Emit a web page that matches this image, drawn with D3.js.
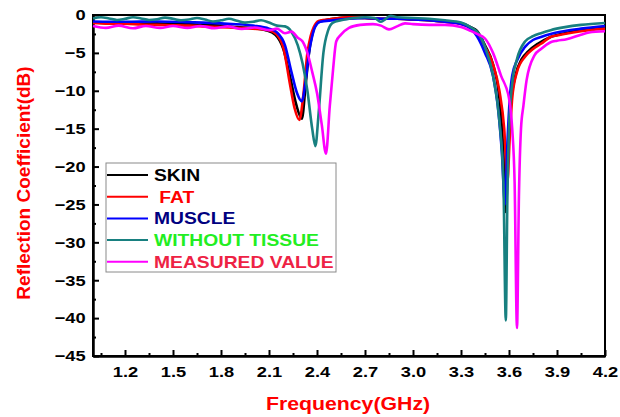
<!DOCTYPE html>
<html>
<head>
<meta charset="utf-8">
<script src="https://cdn.jsdelivr.net/npm/d3@7"></script>
<style>
  body { margin: 0; background: #fff; }
  text { font-family: "Liberation Sans", Arial, sans-serif; font-weight: bold; }
</style>
</head>
<body>
<div id="chart"></div>
<script>
// [frequency GHz, reflection coefficient dB]
var skin = [[1.0,-1.0],[1.1,-1.1],[1.2,-1.05],[1.3,-1.15],[1.4,-1.1],[1.5,-1.2],[1.6,-1.2],[1.7,-1.35],[1.8,-1.4],[1.9,-1.6],[2.0,-1.75],[2.08,-2.0],[2.14,-2.6],[2.19,-4.5],[2.23,-8.0],[2.27,-11.8],[2.305,-13.7],[2.33,-9],[2.35,-5],[2.375,-2.2],[2.41,-0.9],[2.45,-0.7],[2.5,-0.5],[2.6,-0.35],[2.7,-0.4],[2.8,-0.5],[2.9,-0.5],[3.0,-0.6],[3.1,-0.7],[3.2,-0.9],[3.3,-1.1],[3.36,-1.6],[3.4,-2.1],[3.45,-4.0],[3.5,-6.5],[3.54,-11],[3.565,-18],[3.58,-26],[3.595,-18],[3.61,-12],[3.64,-8],[3.68,-5.8],[3.72,-4.8],[3.78,-3.8],[3.85,-3.0],[3.95,-2.4],[4.05,-2.0],[4.2,-1.7]];
var fat = [[1.0,-1.05],[1.1,-1.15],[1.2,-1.15],[1.3,-1.25],[1.4,-1.3],[1.5,-1.35],[1.6,-1.4],[1.7,-1.5],[1.8,-1.6],[1.9,-1.7],[2.0,-1.8],[2.1,-2.0],[2.15,-2.6],[2.19,-4.3],[2.23,-9.0],[2.26,-12.3],[2.29,-13.85],[2.315,-10.5],[2.34,-5],[2.36,-2.8],[2.38,-1.6],[2.41,-0.8],[2.5,-0.5],[2.6,-0.3],[2.7,-0.4],[2.8,-0.5],[2.9,-0.5],[3.0,-0.6],[3.1,-0.7],[3.2,-0.9],[3.3,-1.2],[3.36,-1.7],[3.4,-2.3],[3.45,-4.2],[3.5,-6.5],[3.54,-10],[3.57,-15],[3.59,-22],[3.605,-16],[3.62,-11],[3.65,-7.5],[3.7,-5.5],[3.75,-4.5],[3.8,-3.8],[3.86,-2.9],[3.9,-2.7],[4.0,-2.3],[4.1,-2.0],[4.2,-1.8]];
var muscle = [[1.0,-0.85],[1.2,-0.9],[1.4,-0.85],[1.6,-0.95],[1.8,-1.1],[2.0,-1.4],[2.1,-1.8],[2.15,-2.3],[2.2,-4.0],[2.24,-7.5],[2.275,-10.3],[2.305,-11.4],[2.33,-8.5],[2.35,-5],[2.37,-2.8],[2.39,-1.5],[2.42,-0.9],[2.5,-0.7],[2.6,-0.5],[2.7,-0.4],[2.8,-0.5],[2.9,-0.5],[3.0,-0.6],[3.1,-0.7],[3.2,-0.9],[3.3,-1.2],[3.36,-1.8],[3.4,-2.8],[3.45,-5.0],[3.5,-8.0],[3.53,-12],[3.555,-18],[3.575,-25],[3.59,-17],[3.605,-11],[3.62,-8.0],[3.65,-6.0],[3.7,-4.2],[3.75,-3.3],[3.8,-2.9],[3.86,-2.5],[3.95,-2.1],[4.05,-1.8],[4.2,-1.45]];
var withoutTissue = [[1.0,-0.45],[1.05,-0.3],[1.1,-0.45],[1.15,-0.65],[1.2,-0.5],[1.25,-0.3],[1.3,-0.45],[1.35,-0.65],[1.4,-0.55],[1.45,-0.35],[1.5,-0.5],[1.55,-0.7],[1.6,-0.6],[1.65,-0.4],[1.7,-0.6],[1.75,-0.85],[1.8,-0.7],[1.85,-0.5],[1.9,-0.75],[1.95,-1.0],[2.0,-0.9],[2.05,-0.7],[2.1,-1.0],[2.15,-1.4],[2.2,-1.5],[2.24,-2.2],[2.28,-4],[2.31,-6.4],[2.34,-10],[2.37,-15],[2.39,-17.3],[2.41,-13],[2.44,-5],[2.47,-2.0],[2.5,-1.0],[2.55,-0.7],[2.6,-0.5],[2.7,-0.3],[2.76,-0.4],[2.8,-0.9],[2.83,-0.5],[2.86,-0.1],[2.9,-0.3],[3.0,-0.4],[3.1,-0.5],[3.2,-0.7],[3.3,-1.0],[3.36,-1.6],[3.4,-2.2],[3.45,-4.2],[3.5,-8.0],[3.54,-14],[3.565,-22],[3.58,-40.3],[3.59,-24],[3.6,-15],[3.62,-9],[3.65,-5.8],[3.7,-3.5],[3.75,-2.8],[3.8,-2.4],[3.86,-2.0],[3.95,-1.6],[4.05,-1.3],[4.2,-1.05]];
var measured = [[1.0,-1.45],[1.08,-1.7],[1.16,-1.4],[1.25,-1.75],[1.33,-1.45],[1.42,-1.7],[1.5,-1.45],[1.59,-1.7],[1.67,-1.45],[1.76,-1.75],[1.84,-1.5],[1.93,-1.85],[2.01,-1.65],[2.1,-2.0],[2.15,-1.8],[2.2,-2.4],[2.24,-2.2],[2.28,-3.0],[2.31,-3.5],[2.34,-5],[2.37,-7.5],[2.4,-10.3],[2.43,-14.5],[2.456,-18.3],[2.48,-12],[2.5,-7.3],[2.52,-3.5],[2.55,-2.6],[2.6,-1.7],[2.67,-1.3],[2.75,-1.2],[2.8,-1.4],[2.85,-1.9],[2.9,-1.5],[2.95,-1.1],[3.0,-1.2],[3.1,-1.3],[3.2,-1.3],[3.3,-1.6],[3.36,-2.1],[3.4,-2.5],[3.45,-3.1],[3.5,-5.0],[3.55,-8],[3.6,-11],[3.62,-15],[3.635,-22],[3.65,-41.3],[3.662,-24],[3.675,-15],[3.69,-12],[3.71,-8.6],[3.76,-5.3],[3.8,-4.5],[3.86,-3.6],[3.9,-3.4],[3.96,-3.2],[4.05,-2.6],[4.1,-2.3],[4.2,-2.15]];

var seriesNames = ["SKIN", " FAT", "MUSCLE", "WITHOUT TISSUE", "MEASURED VALUE"];
var seriesData = [skin, fat, muscle, withoutTissue, measured];
var lineColors = ["#000000", "#ff0000", "#0000ff", "#188080", "#ff00ff"];
var labelColors = ["#000000", "#ff0000", "#00007f", "#22ee22", "#ee2244"];

var xTicks = [1.2, 1.5, 1.8, 2.1, 2.4, 2.7, 3.0, 3.3, 3.6, 3.9, 4.2];
var yTicks = [0, -5, -10, -15, -20, -25, -30, -35, -40, -45];

var width = 620, height = 417;
var margin = { top: 15, right: 15, bottom: 61, left: 93 };
// the original picture is a bit stretched sideways, so text gets a wider scale
var stretch = 1.22;

var svg = d3.select("#chart").append("svg")
    .attr("width", width)
    .attr("height", height);

var x = d3.scaleLinear().domain([1.0, 4.2]).range([margin.left, width - margin.right]);
var y = d3.scaleLinear().domain([-45, 0]).range([height - margin.bottom, margin.top]);

// minor ticks halfway between major ones
var xMinor = d3.range(1.05, 4.2, 0.3);
var yMinor = d3.range(-42.5, 0, 5);

// frame
svg.append("rect")
    .attr("x", x(1.0)).attr("y", y(0))
    .attr("width", x(4.2) - x(1.0)).attr("height", y(-45) - y(0))
    .attr("fill", "none").attr("stroke", "#000").attr("stroke-width", 2);

// x axis, ticks pointing in
var xAxis = svg.append("g")
    .attr("transform", "translate(0," + y(-45) + ")")
    .call(d3.axisBottom(x).tickValues(xTicks).tickFormat(d3.format(".1f")).tickSizeInner(-6).tickSizeOuter(0).tickPadding(10));
xAxis.select(".domain").attr("stroke-width", 2.5);
xAxis.selectAll(".tick line").attr("stroke-width", 2);
xAxis.selectAll("text").attr("font-size", 15).attr("fill", "#000")
    .attr("font-family", "Liberation Sans, Arial, sans-serif")
    .attr("transform", "scale(" + stretch + ",1)");

svg.append("g")
    .attr("transform", "translate(0," + y(-45) + ")")
    .call(d3.axisBottom(x).tickValues(xMinor).tickFormat("").tickSizeInner(-3).tickSizeOuter(0))
    .call(function(g) { g.select(".domain").remove(); g.selectAll("line").attr("stroke-width", 2); });

var yAxis = svg.append("g")
    .attr("transform", "translate(" + x(1.0) + ",0)")
    .call(d3.axisLeft(y).tickValues(yTicks).tickSizeInner(-6).tickSizeOuter(0).tickPadding(6));
yAxis.select(".domain").attr("stroke-width", 2.5);
yAxis.selectAll(".tick line").attr("stroke-width", 2);
yAxis.selectAll("text").attr("font-size", 15).attr("fill", "#000")
    .attr("font-family", "Liberation Sans, Arial, sans-serif")
    .attr("transform", "scale(" + stretch + ",1)");

svg.append("g")
    .attr("transform", "translate(" + x(1.0) + ",0)")
    .call(d3.axisLeft(y).tickValues(yMinor).tickFormat("").tickSizeInner(-3).tickSizeOuter(0))
    .call(function(g) { g.select(".domain").remove(); g.selectAll("line").attr("stroke-width", 2); });

// curves
var line = d3.line()
    .x(function(d) { return x(d[0]); })
    .y(function(d) { return y(d[1]); })
    .curve(d3.curveMonotoneX);

svg.append("g").selectAll("path")
    .data(seriesData)
    .enter()
    .append("path")
    .attr("d", line)
    .attr("fill", "none")
    .attr("stroke", function(d, i) { return lineColors[i]; })
    .attr("stroke-width", 2.6)
    .attr("stroke-linejoin", "round");

// legend
var legend = svg.append("g").attr("transform", "translate(106,163)");
legend.append("rect")
    .attr("width", 230).attr("height", 109)
    .attr("fill", "#fff").attr("stroke", "#8a8a8a").attr("stroke-width", 1);

var rows = legend.selectAll(".row")
    .data(seriesNames)
    .enter()
    .append("g")
    .attr("transform", function(d, i) { return "translate(0," + (12 + i * 21.7) + ")"; });

rows.append("line")
    .attr("x1", 1).attr("x2", 42)
    .attr("stroke", function(d, i) { return lineColors[i]; })
    .attr("stroke-width", 2);

rows.append("text")
    .attr("transform", "translate(48,0) scale(1.17,1)")
    .attr("dy", "0.36em")
    .attr("font-size", 16.5)
    .attr("fill", function(d, i) { return labelColors[i]; })
    .attr("xml:space", "preserve")
    .style("white-space", "pre")
    .text(function(d) { return d; });

// axis titles
svg.append("text")
    .attr("transform", "translate(" + ((x(1.0) + x(4.2)) / 2 - 1) + ",410) scale(1.12,1)")
    .attr("text-anchor", "middle")
    .attr("font-size", 19)
    .attr("fill", "#ff0000")
    .text("Frequency(GHz)");

svg.append("text")
    .attr("transform", "translate(30,183) rotate(-90)")
    .attr("text-anchor", "middle")
    .attr("font-size", 19)
    .attr("fill", "#ff0000")
    .text("Reflection Coefficient(dB)");
</script>
</body>
</html>
